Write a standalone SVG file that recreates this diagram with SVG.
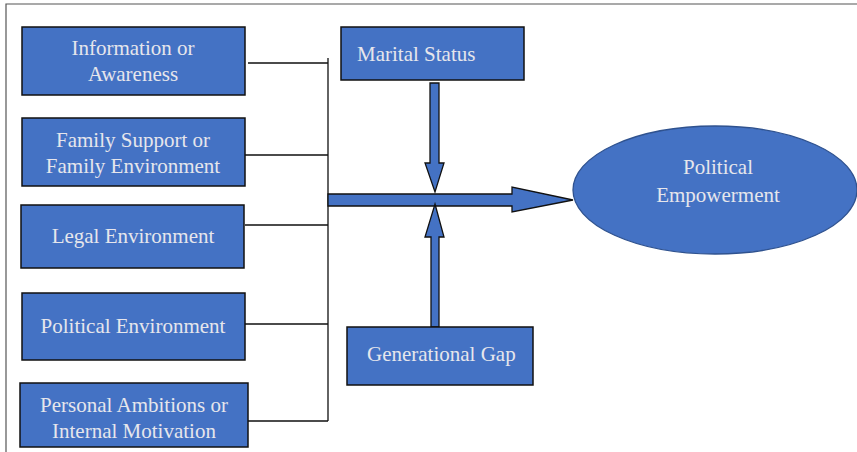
<svg xmlns="http://www.w3.org/2000/svg" width="857" height="452" viewBox="0 0 857 452">
<style>
.box{fill:#4472C4;stroke:#111;stroke-width:1.5}
.t{font-family:"Liberation Serif","Times New Roman",serif;font-size:21px;fill:#e6e6ec;text-anchor:middle}
.ln{stroke:#111;stroke-width:1.3;fill:none}
.arr{fill:#4472C4;stroke:#111;stroke-width:1.3;stroke-linejoin:miter}
</style>
<rect x="0" y="0" width="857" height="452" fill="#fff"/>
<path d="M6,452 V4 H857" fill="none" stroke="#555" stroke-width="1.2"/>
<g id="connectors">
<path class="ln" d="M248,63 H328 M245,155 H328 M245,225 H328 M245,324 H328 M248,421 H328 M328,58 V421"/>
<polygon class="arr" points="430,83 439,83 439,163 444,163 435,192 425,163 430,163"/>
<polygon class="arr" points="328,194 512,194 512,187 573,200 512,212 512,206 328,206"/>
<polygon class="arr" points="435,204 444,237 439,237 439,327 431,327 431,237 425,237"/>
</g>
<g id="info"><rect class="box" x="22" y="27" width="223" height="68"/><text class="t" x="133" y="55">Information or</text><text class="t" x="133" y="81">Awareness</text></g>
<g id="family"><rect class="box" x="22" y="118" width="223" height="68"/><text class="t" x="133" y="147">Family Support or</text><text class="t" x="133" y="173">Family Environment</text></g>
<g id="legal"><rect class="box" x="21" y="205" width="223" height="63"/><text class="t" x="133" y="243">Legal Environment</text></g>
<g id="political"><rect class="box" x="22" y="293" width="223" height="67"/><text class="t" x="133" y="333">Political Environment</text></g>
<g id="personal"><rect class="box" x="20" y="383" width="228" height="64"/><text class="t" x="134" y="412">Personal Ambitions or</text><text class="t" x="134" y="438">Internal Motivation</text></g>
<g id="marital"><rect class="box" x="341" y="27" width="183" height="53"/><text class="t" x="357" y="61" style="text-anchor:start">Marital Status</text></g>
<g id="generational"><rect class="box" x="347" y="327" width="186" height="58"/><text class="t" x="367" y="361" style="text-anchor:start">Generational Gap</text></g>
<g id="empowerment"><ellipse cx="715" cy="190" rx="142" ry="64" fill="#4472C4" stroke="#2F528F" stroke-width="1.3"/><text class="t" x="718" y="174">Political</text><text class="t" x="718" y="202">Empowerment</text></g>
</svg>
